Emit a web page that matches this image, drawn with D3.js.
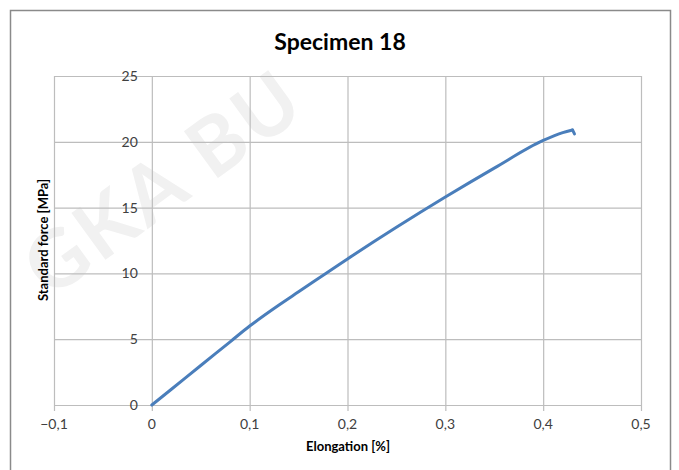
<!DOCTYPE html>
<html><head><meta charset="utf-8">
<script src="https://cdn.jsdelivr.net/npm/d3@7"></script>
<style>body{margin:0;background:#fff}svg{display:block}text{font-family:Lato,"Open Sans",sans-serif}</style>
</head><body><svg id="c" width="679" height="470"></svg>
<script>
const elongation = [0, 0.02, 0.05, 0.08, 0.10, 0.13, 0.15, 0.20, 0.25, 0.30, 0.35, 0.40, 0.42, 0.43, 0.432];
const force      = [0, 1.2, 3.0, 4.8, 6.0, 7.6, 8.6, 11.1, 13.5, 15.8, 18.0, 20.1, 20.7, 20.9, 20.6];
const xTicks = [-0.1, 0, 0.1, 0.2, 0.3, 0.4, 0.5];
const yTicks = [0, 5, 10, 15, 20, 25];
const title = "Specimen 18";
const xTitle = "Elongation [%]";
const yTitle = "Standard force [MPa]";

const svg = d3.select("#c");
// faint watermark
svg.append("text").attr("transform","translate(50,300) rotate(-36)")
  .attr("font-size",80).attr("font-weight","bold").attr("fill","#f1f1f1")
  .attr("letter-spacing",4).text("GKA BU");
// frame
svg.append("path").attr("d","M10.5,470 V10.5 H670.5 V470").attr("fill","none").attr("stroke","#8a8a8a").attr("stroke-width",1.5);

const x = d3.scaleLinear().domain([-0.1,0.5]).range([54,641]);
const y = d3.scaleLinear().domain([0,25]).range([405,76]);
const fmt = d => d===0 ? "0" : d3.format(".1f")(d).replace(".",",");

const g = svg.append("g");
g.selectAll(".vg").data(xTicks).join("line")
  .attr("x1",d=>x(d)+0.5).attr("x2",d=>x(d)+0.5).attr("y1",y(25)).attr("y2",y(0)+6)
  .attr("stroke","#bdbdbd").attr("stroke-width",1.2);
g.selectAll(".hg").data(yTicks).join("line")
  .attr("x1",x(-0.1)).attr("x2",x(0.5)).attr("y1",d=>y(d)+0.5).attr("y2",d=>y(d)+0.5)
  .attr("stroke","#bdbdbd").attr("stroke-width",1.2);

g.selectAll(".xl").data(xTicks).join("text")
  .attr("x",d=>x(d)).attr("y",y(0)+24).attr("text-anchor","middle")
  .attr("font-size",14).attr("fill","#404040").text(fmt);
g.selectAll(".yl").data(yTicks).join("text")
  .attr("x",x(0)-14).attr("y",d=>y(d)+5).attr("text-anchor","end")
  .attr("font-size",14).attr("fill","#404040").text(d=>d);

const line = d3.line().x((d,i)=>x(elongation[i])).y(d=>y(d)).curve(d3.curveMonotoneX);
svg.append("path").attr("d",line(force.slice(0,14)))
  .attr("fill","none").attr("stroke","#4a7ebb").attr("stroke-width",3).attr("stroke-linecap","round");
const lastHook = d3.line().x((d,i)=>x(elongation[13+i])).y(d=>y(d));
svg.append("path").attr("d",lastHook(force.slice(13)))
  .attr("fill","none").attr("stroke","#4a7ebb").attr("stroke-width",3).attr("stroke-linecap","round");

svg.append("text").attr("x",340).attr("y",50).attr("text-anchor","middle")
  .attr("font-size",23).attr("font-weight","bold").attr("fill","#000").text(title);
svg.append("text").attr("x",348).attr("y",451).attr("text-anchor","middle")
  .attr("font-size",13).attr("font-weight","bold").attr("fill","#000").text(xTitle);
svg.append("text").attr("transform","translate(48,240) rotate(-90)").attr("text-anchor","middle")
  .attr("font-size",13).attr("font-weight","bold").attr("fill","#000").text(yTitle);
</script></body></html>
